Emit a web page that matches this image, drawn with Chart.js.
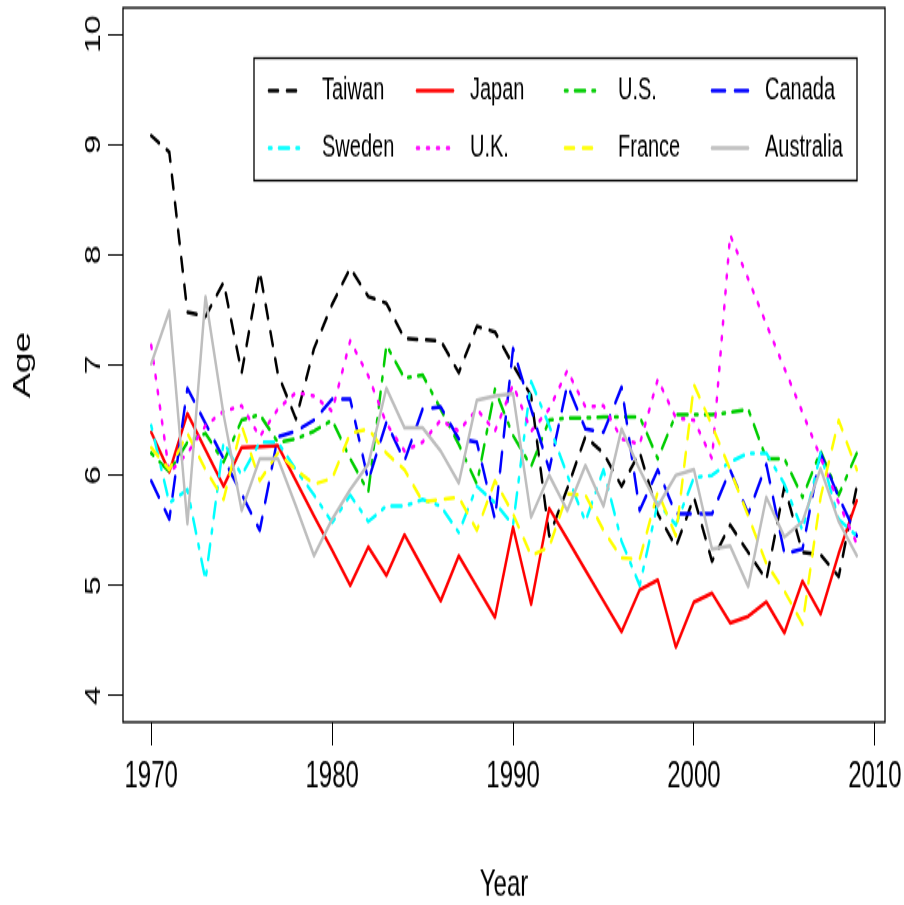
<!DOCTYPE html>
<html>
<head>
<meta charset="utf-8">
<script src="https://cdn.jsdelivr.net/npm/chart.js@4/dist/chart.umd.min.js"></script>
<style>
  html, body { margin: 0; padding: 0; background: #fff; }
  body { width: 904px; height: 905px; }
  /* the reference picture is an R plot stretched vertically; draw flat, then stretch */
  #wrap { width: 904px; height: 584px; transform: scaleY(1.5497); transform-origin: 0 0; }
</style>
</head>
<body>
<div id="wrap"><canvas id="chart" width="904" height="584"></canvas></div>
<script>
const YEARS = [1970, 1971, 1972, 1973, 1974, 1975, 1976, 1977, 1978, 1979,
               1980, 1981, 1982, 1983, 1984, 1985, 1986, 1987, 1988, 1989,
               1990, 1991, 1992, 1993, 1994, 1995, 1996, 1997, 1998, 1999,
               2000, 2001, 2002, 2003, 2004, 2005, 2006, 2007, 2008, 2009];

const TAIWAN = [9.08, 8.93, 7.48, 7.44, 7.75, 6.93, 7.85, 6.92, 6.51, 7.15,
                7.55, 7.88, 7.62, 7.56, 7.24, 7.23, 7.22, 6.93, 7.35, 7.30,
                7.00, 6.72, 5.45, 5.88, 6.35, 6.20, 5.90, 6.21, 5.65, 5.35,
                5.80, 5.22, 5.55, 5.30, 5.05, 5.90, 5.30, 5.28, 5.08, 5.90];
const JAPAN = [6.39, 6.03, 6.56, 6.23, 5.90, 6.25, 6.26, 6.27, 5.95, 5.63,
               5.32, 5.00, 5.35, 5.09, 5.46, 5.16, 4.86, 5.27, 4.99, 4.71,
               5.53, 4.83, 5.70, 5.42, 5.14, 4.86, 4.58, 4.96, 5.05, 4.44,
               4.85, 4.93, 4.66, 4.72, 4.85, 4.57, 5.04, 4.74, 5.29, 5.77];
const US = [6.20, 6.03, 6.30, 6.38, 6.12, 6.50, 6.55, 6.30, 6.33, 6.40,
            6.50, 6.15, 5.85, 7.18, 6.88, 6.91, 6.60, 6.28, 5.92, 6.78,
            6.36, 6.08, 6.50, 6.52, 6.52, 6.53, 6.53, 6.53, 6.15, 6.55,
            6.55, 6.55, 6.57, 6.60, 6.15, 6.15, 5.80, 6.22, 5.82, 6.20];
const CANADA = [5.95, 5.60, 6.79, 6.47, 6.15, 5.83, 5.50, 6.35, 6.40, 6.50,
                6.69, 6.69, 5.95, 6.48, 6.13, 6.60, 6.62, 6.33, 6.30, 5.60,
                7.15, 6.60, 6.05, 6.82, 6.42, 6.39, 6.80, 5.68, 6.05, 5.65,
                5.65, 5.65, 6.05, 5.65, 6.10, 5.29, 5.33, 6.20, 5.80, 5.45];
const SWEDEN = [6.45, 5.75, 5.87, 5.05, 6.30, 6.00, 6.30, 6.30, 6.05, 5.82,
                5.57, 5.82, 5.58, 5.72, 5.72, 5.78, 5.72, 5.48, 5.90, 5.75,
                5.55, 6.85, 6.45, 6.00, 5.58, 6.05, 5.40, 5.00, 5.75, 5.55,
                5.98, 6.00, 6.12, 6.20, 6.20, 5.92, 5.50, 6.20, 5.60, 5.45];
const UK = [7.18, 6.02, 6.20, 6.45, 6.58, 6.63, 6.35, 6.60, 6.75, 6.72,
            6.58, 7.22, 6.90, 6.47, 6.22, 6.30, 6.50, 6.40, 6.60, 6.40,
            6.82, 6.40, 6.60, 6.95, 6.62, 6.63, 6.33, 6.28, 6.87, 6.52,
            6.50, 6.15, 8.18, 7.78, 7.37, 6.97, 6.57, 6.16, 5.75, 5.38];
const FRANCE = [6.25, 6.05, 6.38, 6.05, 5.78, 6.45, 5.95, 6.20, 6.05, 5.92,
                5.97, 6.38, 6.42, 6.20, 6.05, 5.76, 5.78, 5.80, 5.50, 5.95,
                5.65, 5.27, 5.35, 5.83, 5.82, 5.50, 5.25, 5.24, 5.85, 5.45,
                6.82, 6.45, 6.05, 5.63, 5.20, 4.95, 4.65, 5.80, 6.50, 6.05];
const AUSTRALIA = [7.01, 7.49, 5.56, 7.62, 6.55, 5.68, 6.15, 6.15, 5.72, 5.27,
                   5.60, 5.87, 6.10, 6.79, 6.43, 6.43, 6.22, 5.93, 6.68, 6.72,
                   6.74, 5.62, 6.00, 5.68, 6.09, 5.72, 6.42, 6.05, 5.72, 6.00,
                   6.05, 5.33, 5.36, 4.99, 5.80, 5.44, 5.58, 6.06, 5.58, 5.27];

const COUNTRIES = ['Taiwan', 'Japan', 'U.S.', 'Canada', 'Sweden', 'U.K.', 'France', 'Australia'];
const SERIES = [TAIWAN, JAPAN, US, CANADA, SWEDEN, UK, FRANCE, AUSTRALIA];
const X_TICKS = [1970, 1980, 1990, 2000, 2010];
const Y_TICKS = [4, 5, 6, 7, 8, 9, 10];
const Y_LIM = [4, 10];

const COLORS = ['#000000', '#FF0000', '#00CD00', '#0000FF', '#00FFFF', '#FF00FF', '#FFFF00', '#BEBEBE'];
const DASHES = [[9, 9], [], [2.5, 7.5, 10, 7.5], [13, 10], [2.5, 7.5, 10, 7.5], [2, 8], [9, 9], []];

const FONT = '"Liberation Sans", Arial, sans-serif';

// R style axis range: 4% padding on each side
const xPad = (YEARS[YEARS.length - 1] - YEARS[0]) * 0.04;
const yPad = (Y_LIM[1] - Y_LIM[0]) * 0.04;

const datasets = SERIES.map((vals, i) => ({
    label: COUNTRIES[i],
    data: YEARS.map((yr, j) => ({ x: yr, y: vals[j] })),
    borderColor: COLORS[i],
    borderWidth: 2.5,
    borderDash: DASHES[i],
    borderCapStyle: 'round',
    borderJoinStyle: 'round',
    pointRadius: 0,
    tension: 0,
    fill: false,
    order: SERIES.length - i,
}));

// ── Plot frame ────────────────────────────────────────────────────────────
const boxPlugin = {
    id: 'box',
    beforeDatasetsDraw(chart) {
        const { ctx, chartArea: a } = chart;
        ctx.save();
        ctx.strokeStyle = '#000';
        ctx.lineWidth = 1.3;
        ctx.strokeRect(a.left, a.top, a.right - a.left, a.bottom - a.top);
        ctx.restore();
    },
};

// ── Legend box (two rows of four, like R's legend(ncol = 4)) ─────────────
const legendPlugin = {
    id: 'rlegend',
    afterDatasetsDraw(chart) {
        const { ctx } = chart;
        const box = { x: 254, y: 37.5, w: 603, h: 79 };
        const colX = [269, 417, 565, 712];
        const rowY = [58.5, 95.5];
        ctx.save();
        ctx.fillStyle = '#fff';
        ctx.fillRect(box.x, box.y, box.w, box.h);
        ctx.strokeStyle = '#000';
        ctx.lineWidth = 1.3;
        ctx.strokeRect(box.x, box.y, box.w, box.h);
        chart.data.datasets.forEach((ds, i) => {
            const x = colX[i % 4];
            const y = rowY[Math.floor(i / 4)];
            ctx.beginPath();
            ctx.strokeStyle = ds.borderColor;
            ctx.lineWidth = ds.borderWidth;
            ctx.lineCap = 'round';
            ctx.setLineDash(ds.borderDash);
            ctx.moveTo(x, y);
            ctx.lineTo(x + 36, y);
            ctx.stroke();
            ctx.setLineDash([]);
            ctx.fillStyle = '#000';
            ctx.font = `20px ${FONT}`;
            ctx.textBaseline = 'middle';
            ctx.textAlign = 'left';
            ctx.fillText(ds.label, x + 53, y);
        });
        ctx.restore();
    },
};

new Chart(document.getElementById('chart'), {
    type: 'line',
    data: { datasets },
    options: {
        responsive: false,
        animation: false,
        devicePixelRatio: 1,
        layout: { padding: { top: 5, right: 19, left: 0, bottom: 0 } },
        plugins: { legend: { display: false }, tooltip: { enabled: false } },
        scales: {
            x: {
                type: 'linear',
                min: YEARS[0] - xPad,
                max: YEARS[YEARS.length - 1] + xPad,
                afterBuildTicks: (s) => { s.ticks = X_TICKS.map((v) => ({ value: v })); },
                afterFit: (s) => { s.height = 118; s.paddingLeft = 0; s.paddingRight = 0; },
                grid: { drawOnChartArea: false, drawTicks: true, tickLength: 15, tickColor: '#000', tickWidth: 1 },
                border: { display: false },
                ticks: {
                    color: '#000', font: { family: FONT, size: 24 }, padding: 6,
                    maxRotation: 0, autoSkip: false, callback: (v) => String(v),
                },
                title: { display: true, text: 'Year', color: '#000', font: { family: FONT, size: 24 }, padding: { top: 0, bottom: -2 } },
            },
            y: {
                min: Y_LIM[0] - yPad,
                max: Y_LIM[1] + yPad,
                afterBuildTicks: (s) => { s.ticks = Y_TICKS.map((v) => ({ value: v })); },
                afterFit: (s) => { s.width = 123; s.paddingTop = 0; s.paddingBottom = 0; },
                grid: { drawOnChartArea: false, drawTicks: true, tickLength: 15, tickColor: '#000', tickWidth: 1 },
                border: { display: false },
                ticks: {
                    color: '#000', font: { family: FONT, size: 22 }, padding: 2,
                    minRotation: 90, maxRotation: 90, crossAlign: 'center', autoSkip: false,
                    callback: (v) => String(v),
                },
                title: { display: true, text: 'Age', color: '#000', font: { family: FONT, size: 24 }, padding: { top: 9, bottom: 0 } },
            },
        },
    },
    plugins: [boxPlugin, legendPlugin],
});
</script>
</body>
</html>
